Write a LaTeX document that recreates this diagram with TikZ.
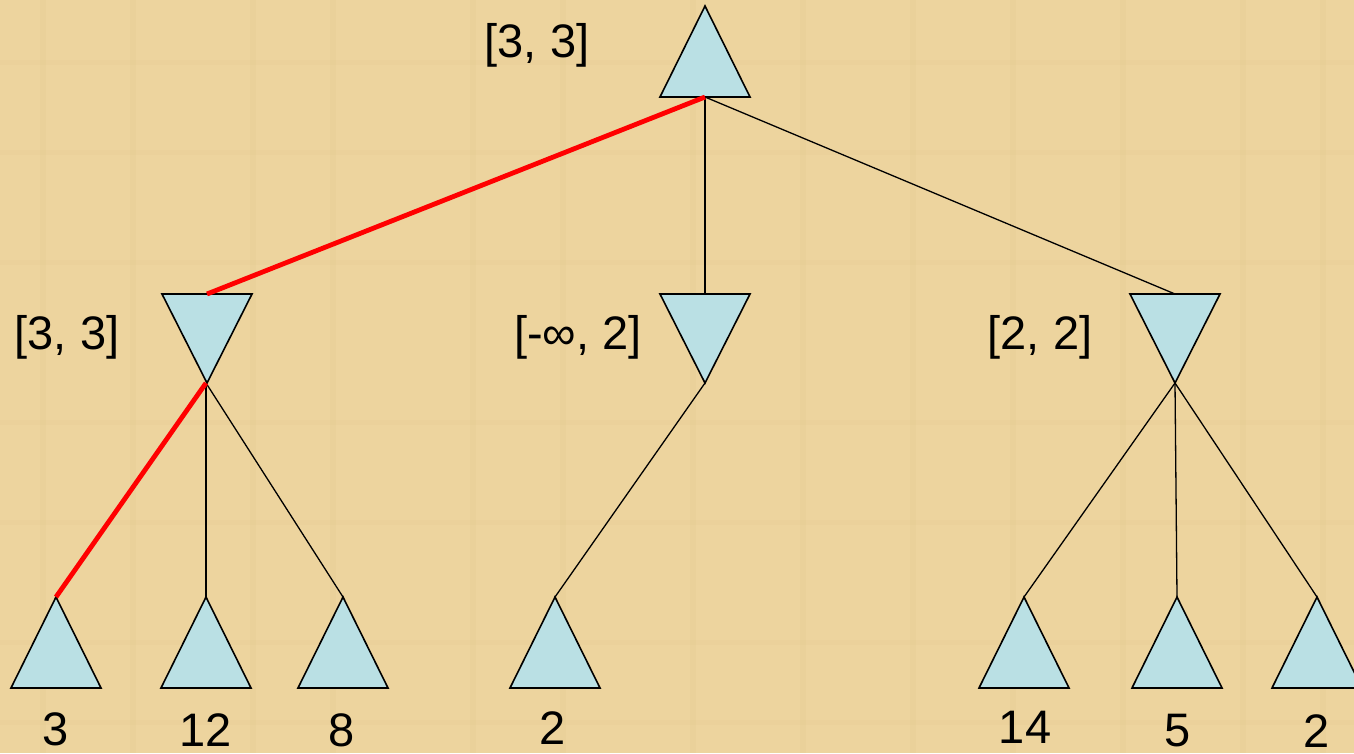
\documentclass[tikz,border=0pt]{standalone}
\usepackage{fontspec}
\setmainfont{Liberation Sans}
\definecolor{bgtan}{RGB}{237,212,158}
\definecolor{bgstripe}{RGB}{226,198,140}
\definecolor{triblue}{RGB}{186,224,228}
\begin{document}
\begin{tikzpicture}[x=1pt,y=-1pt,
  tri/.style={draw=black, line width=1.6pt, fill=triblue, line join=miter},
  edge/.style={black, line width=1.3pt},
  best/.style={red, line width=4.8pt},
  lbl/.style={font=\fontsize{47}{56}\selectfont, text=black, inner sep=0pt},
  maxtri/.pic={\path[tri] (0,0) -- (-45,91) -- (45,91) -- cycle;},
  mintri/.pic={\path[tri] (-45,0) -- (45,0) -- (0,89) -- cycle;}]
% background
\fill[bgtan] (0,0) rectangle (1354,753);
\foreach \x in {40,130,250,330,470,560,690,800,910,1010,1120,1240,1320}
  \fill[bgstripe,opacity=0.2] (\x,0) rectangle ++(6,753);
\foreach \y in {60,150,260,420,520,640,720}
  \fill[bgstripe,opacity=0.15] (0,\y) rectangle ++(1354,5);
\useasboundingbox (0,0) rectangle (1354,753);
% positions
\coordinate (R) at (705,6);   \coordinate (Rb) at (705,97);
\coordinate (A) at (207,294); \coordinate (Ab) at (206,383);
\coordinate (B) at (705,294); \coordinate (Bb) at (705,383);
\coordinate (C) at (1175,294);\coordinate (Cb) at (1175,383);
\coordinate (L1) at (56,597);
\coordinate (L2) at (206,597);
\coordinate (L3) at (343,597);
\coordinate (L4) at (555,597);
\coordinate (L5) at (1024,597);
\coordinate (L6) at (1177,597);
\coordinate (L7) at (1317,597);
% triangles
\pic at (R) {maxtri};
\pic at (A) {mintri};
\pic at (B) {mintri};
\pic at (C) {mintri};
\foreach \l in {L1,L2,L3,L4,L5,L6,L7} \pic at (\l) {maxtri};
% edges
\draw[edge] (Rb) -- (B);
\draw[edge] (Rb) -- (C);
\draw[edge] (Ab) -- (L2);
\draw[edge] (Ab) -- (L3);
\draw[edge] (Bb) -- (L4);
\draw[edge] (Cb) -- (L5);
\draw[edge] (Cb) -- (L6);
\draw[edge] (Cb) -- (L7);
\draw[best] (Rb) -- (A);
\draw[best] (Ab) -- (L1);
% labels
\node[lbl] (tR) at (537,45) {[3, 3]};
\node[lbl] (tA) at (67,337) {[3, 3]};
\node[lbl] (tB) at (578,337) {[-\char"221E, 2]};
\node[lbl] (tC) at (1040,337) {[2, 2]};
\node[lbl] (v1) at (56,729) {3};
\node[lbl] (v2) at (206,730) {12};
\node[lbl] (v3) at (342,730) {8};
\node[lbl] (v4) at (553,728) {2};
\node[lbl] (v5) at (1025,727) {14};
\node[lbl] (v6) at (1178,731) {5};
\node[lbl] (v7) at (1317,731) {2};
\end{tikzpicture}
\end{document}
